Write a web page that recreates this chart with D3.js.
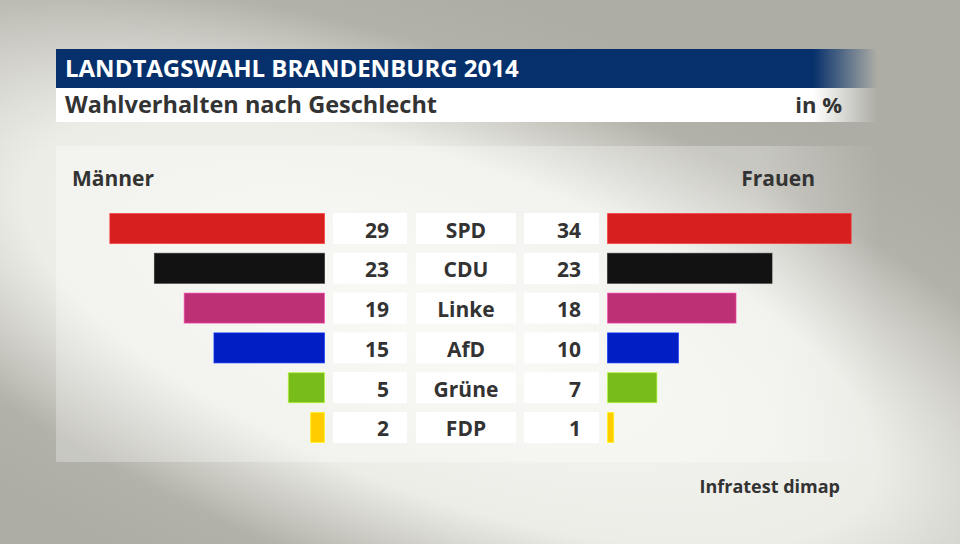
<!DOCTYPE html>
<html><head><meta charset="utf-8">
<script src="https://cdn.jsdelivr.net/npm/d3@7"></script>
<style>html,body{margin:0;padding:0;background:#c0c0b8;}svg{display:block;}text{font-family:"Open Sans",sans-serif;font-weight:700;}</style>
</head><body>
<script>
const parties = ["SPD","CDU","Linke","AfD","Grüne","FDP"];
const men = [29,23,19,15,5,2];
const women = [34,23,18,10,7,1];
const colors = ["#d71f1f","#121212","#bd3075","#001ec4","#78bc1b","#ffcc00"];
const title = "LANDTAGSWAHL BRANDENBURG 2014";
const subtitle = "Wahlverhalten nach Geschlecht";
const unit = "in %";
const leftHead = "Männer", rightHead = "Frauen";
const source = "Infratest dimap";

const W=960,H=544;
const svg=d3.select("body").append("svg").attr("width",W).attr("height",H);
const defs=svg.append("defs");
const bg=defs.append("radialGradient").attr("id","bg").attr("gradientUnits","userSpaceOnUse")
 .attr("cx",0).attr("cy",0).attr("r",1).attr("gradientTransform","translate(450,330) rotate(20) scale(900,330)");
[[0,"#f7f7f3"],[0.5,"#ededE8"],[0.8,"#b3b2aa"],[1,"#adada5"]].forEach(s=>bg.append("stop").attr("offset",s[0]).attr("stop-color",s[1]));
svg.append("rect").attr("width",W).attr("height",H).attr("fill","url(#bg)");

function fadeGrad(id,color,op){
  const g=defs.append("linearGradient").attr("id",id).attr("gradientUnits","userSpaceOnUse").attr("x1",813).attr("x2",877).attr("y1",0).attr("y2",0);
  g.append("stop").attr("offset",0).attr("stop-color",color).attr("stop-opacity",op);
  g.append("stop").attr("offset",1).attr("stop-color",color).attr("stop-opacity",0);
}
fadeGrad("tb","#06306b",1);
fadeGrad("sb","#ffffff",1);
const pg=defs.append("linearGradient").attr("id","pg").attr("gradientUnits","userSpaceOnUse").attr("x1",760).attr("x2",880).attr("y1",0).attr("y2",0);
pg.append("stop").attr("offset",0).attr("stop-color","#fff").attr("stop-opacity",0.28);
pg.append("stop").attr("offset",1).attr("stop-color","#fff").attr("stop-opacity",0);

// panel
svg.append("rect").attr("x",56).attr("y",146).attr("width",824).attr("height",316).attr("fill","url(#pg)");
// title bars
svg.append("rect").attr("x",56).attr("y",49).attr("width",824).attr("height",39).attr("fill","url(#tb)");
svg.append("rect").attr("x",56).attr("y",88).attr("width",824).attr("height",34).attr("fill","url(#sb)");
svg.append("text").attr("x",65).attr("y",77).attr("fill","#fff").attr("font-size",24).text(title);
svg.append("text").attr("x",65).attr("y",113).attr("fill","#333").attr("font-size",23.5).text(subtitle);
svg.append("text").attr("x",842).attr("y",113).attr("fill","#333").attr("font-size",22).attr("text-anchor","end").text(unit);

svg.append("text").attr("x",72).attr("y",186).attr("fill","#333").attr("font-size",21).text(leftHead);
svg.append("text").attr("x",815).attr("y",186).attr("fill","#333").attr("font-size",21).attr("text-anchor","end").text(rightHead);
svg.append("text").attr("x",840).attr("y",493).attr("fill","#333").attr("font-size",18).attr("text-anchor","end").text(source);

const y=d3.scaleBand().domain(parties).range([213,443]).paddingInner(0.22).paddingOuter(0);
const xl=d3.scaleLinear().domain([0,29]).range([325,109.3]);
const xr=d3.scaleLinear().domain([0,34]).range([607,851.7]);

const rows=svg.append("g").selectAll("g").data(parties).join("g");
rows.append("rect").attr("x",(d,i)=>xl(men[i])+0.5).attr("y",d=>y(d)+0.5).attr("width",(d,i)=>xl(0)-xl(men[i])-1).attr("height",y.bandwidth()-1)
 .attr("fill",(d,i)=>colors[i]).attr("stroke",(d,i)=>d3.color(colors[i]).brighter(1.2)).attr("stroke-width",1).attr("stroke-opacity",0.6);
rows.append("rect").attr("x",xr(0)+0.5).attr("y",d=>y(d)+0.5).attr("width",(d,i)=>xr(women[i])-xr(0)-1).attr("height",y.bandwidth()-1)
 .attr("fill",(d,i)=>colors[i]).attr("stroke",(d,i)=>d3.color(colors[i]).brighter(1.2)).attr("stroke-width",1).attr("stroke-opacity",0.6);
// boxes
[[333,74],[416,100],[524,75]].forEach(b=>{
  rows.append("rect").attr("x",b[0]).attr("y",d=>y(d)).attr("width",b[1]).attr("height",y.bandwidth()).attr("fill","#fff");
});
const ty=d=>y(d)+y.bandwidth()/2+9;
rows.append("text").attr("x",389).attr("y",ty).attr("text-anchor","end").attr("font-size",21).attr("fill","#333").text((d,i)=>men[i]);
rows.append("text").attr("x",466).attr("y",ty).attr("text-anchor","middle").attr("font-size",21).attr("fill","#333").text(d=>d);
rows.append("text").attr("x",581).attr("y",ty).attr("text-anchor","end").attr("font-size",21).attr("fill","#333").text((d,i)=>women[i]);
</script>
</body></html>
